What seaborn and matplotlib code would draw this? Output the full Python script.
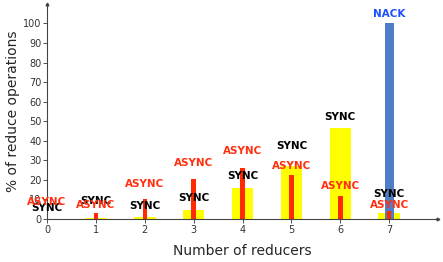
import numpy as np
import pandas as pd
import matplotlib
matplotlib.use("Agg")
import matplotlib.pyplot as plt
import seaborn as sns

sns.set_style("white")
plt.rcParams['font.family'] = ['DejaVu Sans']

reducers = [0, 1, 2, 3, 4, 5, 6, 7]
sync = [0.0, 0.3, 1.0, 4.6, 16.0, 27.0, 46.5, 3.0]
async_ = [0.0, 3.0, 10.0, 20.5, 26.0, 22.5, 12.0, 4.0]
nack = [0, 0, 0, 0, 0, 0, 0, 100]

# label heights (hand placed so they don't collide)
sync_label_y = [5.6, 9.3, 6.6, 10.7, 22.0, 37.4, 52.0, 12.7]
async_label_y = [8.8, 7.0, 17.7, 28.4, 34.7, 27.0, 16.8, 7.0]
nack_label_y = 105

df = pd.DataFrame({'reducers': reducers, 'sync': sync, 'async': async_, 'nack': nack})

fig = plt.figure(figsize=(4.43, 2.62), dpi=100)
ax = fig.add_axes([0.106, 0.164, 0.883, 0.821])

sns.barplot(data=df, x='reducers', y='sync', native_scale=True, width=0.44,
            color='#ffff00', saturation=1, linewidth=0, ax=ax)
sns.barplot(data=df, x='reducers', y='nack', native_scale=True, width=0.18,
            color='#4f7ec6', saturation=1, linewidth=0, ax=ax)
sns.barplot(data=df, x='reducers', y='async', native_scale=True, width=0.09,
            color='#ff2a00', saturation=1, linewidth=0, ax=ax)

for i, x in enumerate(reducers):
    ax.text(x, sync_label_y[i], 'SYNC', ha='center', va='center',
            fontsize=7.5, fontweight='bold', color='black')
    ax.text(x, async_label_y[i], 'ASYNC', ha='center', va='center',
            fontsize=7.5, fontweight='bold', color='#ff3010')
ax.text(7, nack_label_y, 'NACK', ha='center', va='center',
        fontsize=7.5, fontweight='bold', color='#1f4fff')

ax.set_xlim(0, 8)
ax.set_ylim(0, 110)
ax.set_xticks(reducers)
ax.set_xticklabels([str(r) for r in reducers])
ax.set_yticks(np.arange(0, 101, 10))
ax.tick_params(labelsize=7, length=3, width=0.6, colors='#333333', pad=1)
ax.tick_params(axis='both', which='both', direction='out', bottom=True, left=True)

ax.set_xlabel('Number of reducers', fontsize=10, labelpad=7)
ax.set_ylabel('% of reduce operations', fontsize=10, labelpad=2)

for s in ['top', 'right']:
    ax.spines[s].set_visible(False)
for s in ['left', 'bottom']:
    ax.spines[s].set_color('#444444')
    ax.spines[s].set_linewidth(0.8)

ax.plot(1, 0, '>', color='#444444', markersize=2, transform=ax.transAxes, clip_on=False)
ax.plot(0, 1, '^', color='#444444', markersize=2, transform=ax.transAxes, clip_on=False)

fig.savefig('out.png', dpi=100)
